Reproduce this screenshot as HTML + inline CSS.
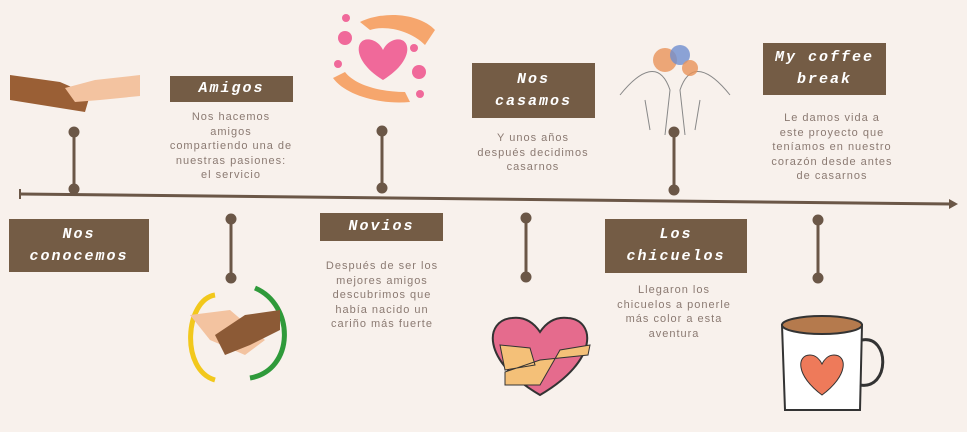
<!DOCTYPE html>
<html><head><meta charset="utf-8"><style>
body{margin:0;width:967px;height:432px;background:#f8f1ec;position:relative;overflow:hidden;font-family:"Liberation Sans",sans-serif}
.b{position:absolute;background:#745c45;color:#fff;font-family:"Liberation Mono",monospace;font-style:italic;font-weight:bold;font-size:15px;letter-spacing:2px;text-align:center;display:flex;align-items:center;justify-content:center;line-height:22px}
.t{position:absolute;color:#8b7a72;font-size:11px;letter-spacing:1px;text-align:center;line-height:14.5px;width:160px}
svg{position:absolute;left:0;top:0}
</style></head><body>
<svg width="967" height="432">
<g stroke="#6b5747" stroke-width="3" fill="#6b5747">
<line x1="20" y1="194" x2="952" y2="204"/>
<line x1="20" y1="189" x2="20" y2="199" stroke-width="2"/>
<polygon points="958,204 949,199 949,209" stroke="none"/>
<line x1="74" y1="132" x2="74" y2="189"/><circle cx="74" cy="132" r="4"/><circle cx="74" cy="189" r="4"/>
<line x1="231" y1="219" x2="231" y2="278"/><circle cx="231" cy="219" r="4"/><circle cx="231" cy="278" r="4"/>
<line x1="382" y1="131" x2="382" y2="188"/><circle cx="382" cy="131" r="4"/><circle cx="382" cy="188" r="4"/>
<line x1="526" y1="218" x2="526" y2="277"/><circle cx="526" cy="218" r="4"/><circle cx="526" cy="277" r="4"/>
<line x1="674" y1="132" x2="674" y2="190"/><circle cx="674" cy="132" r="4"/><circle cx="674" cy="190" r="4"/>
<line x1="818" y1="220" x2="818" y2="278"/><circle cx="818" cy="220" r="4"/><circle cx="818" cy="278" r="4"/>
</g>
<!-- handshake 1 -->
<path d="M10 75 L60 82 L90 95 L85 112 L60 108 L10 100Z" fill="#9a5f35"/>
<path d="M140 75 L95 80 L65 88 L75 102 L100 100 L140 96Z" fill="#f3c3a0"/>
<!-- hearts -->
<path d="M383 80 C350 60 355 35 372 40 C378 42 381 46 383 50 C385 46 388 42 394 40 C411 35 416 60 383 80Z" fill="#f0699a"/>
<circle cx="345" cy="38" r="7" fill="#f0699a"/><circle cx="419" cy="72" r="7" fill="#f0699a"/><circle cx="346" cy="18" r="4" fill="#f0699a"/><circle cx="338" cy="64" r="4" fill="#f0699a"/><circle cx="414" cy="48" r="4" fill="#f0699a"/><circle cx="420" cy="94" r="4" fill="#f0699a"/>
<path d="M360 22 C385 10 420 14 435 30 L425 45 C410 30 385 25 370 30Z" fill="#f6a66d"/>
<path d="M333 78 C345 95 380 105 410 102 L405 92 C380 92 355 85 345 72Z" fill="#f6a66d"/>
<!-- sketch hands -->
<g stroke="#888" fill="none" stroke-width="1"><path d="M620 95 C640 70 660 60 670 90 L665 135 M730 95 C710 70 690 60 680 90 L685 135 M645 100 L650 130 M700 100 L695 130"/></g>
<circle cx="665" cy="60" r="12" fill="#e8935a" opacity=".8"/><circle cx="680" cy="55" r="10" fill="#6f8fd0" opacity=".8"/><circle cx="690" cy="68" r="8" fill="#e8935a" opacity=".8"/>
<!-- handshake circle -->
<path d="M215 295 C185 300 180 370 215 380" stroke="#f2c81c" stroke-width="5" fill="none"/>
<path d="M255 288 C295 305 295 370 250 378" stroke="#2f9a3a" stroke-width="5" fill="none"/>
<path d="M190 315 L230 310 L265 340 L245 355 L210 340Z" fill="#f3c3a0"/>
<path d="M280 310 L245 315 L215 335 L225 355 L250 345 L280 330Z" fill="#8c5a36"/>
<!-- heart hug -->
<path d="M540 395 C480 360 485 320 512 318 C528 316 536 326 540 332 C544 326 552 316 568 318 C595 320 600 360 540 395Z" fill="#e56b8d" stroke="#333" stroke-width="2"/>
<path d="M500 345 L530 348 L535 365 L505 370Z M590 345 L560 350 L540 385 L505 385 L505 372 L540 360 L588 355Z" fill="#f4c078" stroke="#333" stroke-width="1"/>
<!-- mug -->
<path d="M782 325 L862 325 L860 410 L785 410Z" fill="#fff" stroke="#333" stroke-width="2"/>
<ellipse cx="822" cy="325" rx="40" ry="9" fill="#b57a4d" stroke="#333" stroke-width="2"/>
<path d="M862 340 C890 335 890 390 860 385" fill="none" stroke="#333" stroke-width="3"/>
<path d="M822 395 C795 375 797 355 810 355 C816 355 820 360 822 364 C824 360 828 355 834 355 C847 355 849 375 822 395Z" fill="#ee7a5a" stroke="#333"/>
</svg>
<div class="b" style="left:9px;top:219px;width:140px;height:53px">Nos<br>conocemos</div>
<div class="b" style="left:170px;top:76px;width:123px;height:26px">Amigos</div>
<div class="b" style="left:320px;top:213px;width:123px;height:28px">Novios</div>
<div class="b" style="left:472px;top:63px;width:123px;height:55px">Nos<br>casamos</div>
<div class="b" style="left:605px;top:219px;width:142px;height:54px">Los<br>chicuelos</div>
<div class="b" style="left:763px;top:43px;width:123px;height:52px">My coffee<br>break</div>
<div class="t" style="left:151px;top:110px">Nos hacemos<br>amigos<br>compartiendo una de<br>nuestras pasiones:<br>el servicio</div>
<div class="t" style="left:302px;top:259px">Después de ser los<br>mejores amigos<br>descubrimos que<br>había nacido un<br>cariño más fuerte</div>
<div class="t" style="left:453px;top:131px">Y unos años<br>después decidimos<br>casarnos</div>
<div class="t" style="left:594px;top:283px">Llegaron los<br>chicuelos a ponerle<br>más color a esta<br>aventura</div>
<div class="t" style="left:752px;top:111px">Le damos vida a<br>este proyecto que<br>teníamos en nuestro<br>corazón desde antes<br>de casarnos</div>
</body></html>
